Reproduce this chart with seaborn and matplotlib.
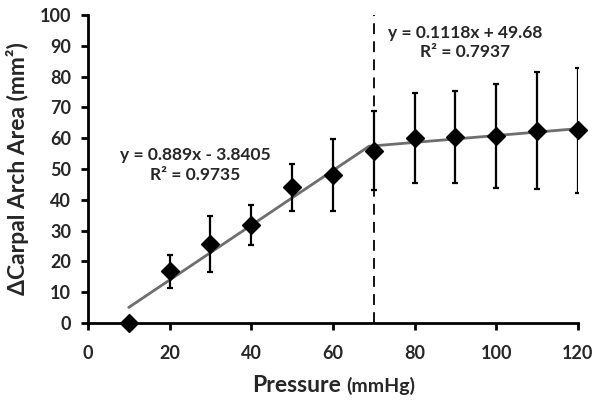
import numpy as np
import pandas as pd
import matplotlib
matplotlib.use("Agg")
import matplotlib.pyplot as plt
import seaborn as sns

# data
pressure = [10, 20, 30, 40, 50, 60, 70, 80, 90, 100, 110, 120]
area = [0.0, 16.8, 25.6, 31.8, 44.0, 48.0, 55.9, 60.2, 60.4, 60.6, 62.4, 62.6]
err = [0.0, 5.4, 9.2, 6.6, 7.6, 11.8, 12.8, 14.6, 15.0, 16.9, 19.0, 20.3]

# trendline coefficients as printed on the chart
slope1, icpt1 = 0.889, -3.8405
slope2, icpt2 = 0.1118, 49.68
knee = 70

df = pd.DataFrame({"Pressure": pressure, "Area": area, "err": err})

sns.set_style("ticks")
plt.rcParams["font.family"] = ["Lato", "DejaVu Sans"]
W = "bold"

fig = plt.figure(figsize=(6.02, 4.04), dpi=100)
ax = fig.add_axes([0.146, 0.2005, 0.814, 0.7625])

# trendlines, from the printed equations
x_cross = (icpt2 - icpt1) / (slope1 - slope2)
x1 = np.array([pressure[0], x_cross])
x2 = np.array([x_cross, pressure[-1]])
sns.lineplot(x=x1, y=slope1 * x1 + icpt1, ax=ax, color="#6e6e6e", linewidth=2, zorder=2)
sns.lineplot(x=x2, y=slope2 * x2 + icpt2, ax=ax, color="#6e6e6e", linewidth=2, zorder=2)

ax.errorbar(df["Pressure"], df["Area"], yerr=df["err"], fmt="none",
            ecolor="black", elinewidth=1.6, capsize=2.5, capthick=1.6, zorder=3)
sns.scatterplot(data=df, x="Pressure", y="Area", ax=ax, marker="D", s=80,
                color="black", edgecolor="black", linewidth=1.2, zorder=4, clip_on=False)

ax.axvline(knee, color="black", linewidth=1.3, linestyle=(0, (6, 4)), zorder=1)

ax.text(26.2, 51.3, "y = 0.889x - 3.8405\nR² = 0.9735", ha="center", va="center",
        fontsize=12.5, fontweight=W, linespacing=1.25)
ax.text(92.3, 91, "y = 0.1118x + 49.68\nR² = 0.7937", ha="center", va="center",
        fontsize=12.5, fontweight=W, linespacing=1.25)

ax.set_xlim(0, 120)
ax.set_ylim(0, 100)
ax.set_xticks(range(0, 121, 20))
ax.set_yticks(range(0, 101, 10))
ax.tick_params(labelsize=13, width=2, length=5, color="black")
ax.tick_params(axis="x", pad=11)
ax.tick_params(axis="y", pad=7)
for lab in ax.get_xticklabels() + ax.get_yticklabels():
    lab.set_fontweight(W)
for s in ["top", "right"]:
    ax.spines[s].set_visible(False)
for s in ["left", "bottom"]:
    ax.spines[s].set_linewidth(2)
    ax.spines[s].set_color("black")

ax.set_xlabel("")
ax.set_ylabel("ΔCarpal Arch Area (mm²)", fontsize=16.5, fontweight=W, labelpad=8)
fig.text(0.566, 0.03, "Pressure", ha="right", va="baseline", fontsize=16.5, fontweight=W)
fig.text(0.575, 0.03, "(mmHg)", ha="left", va="baseline", fontsize=14, fontweight=W)

fig.savefig("out.png", dpi=100)
